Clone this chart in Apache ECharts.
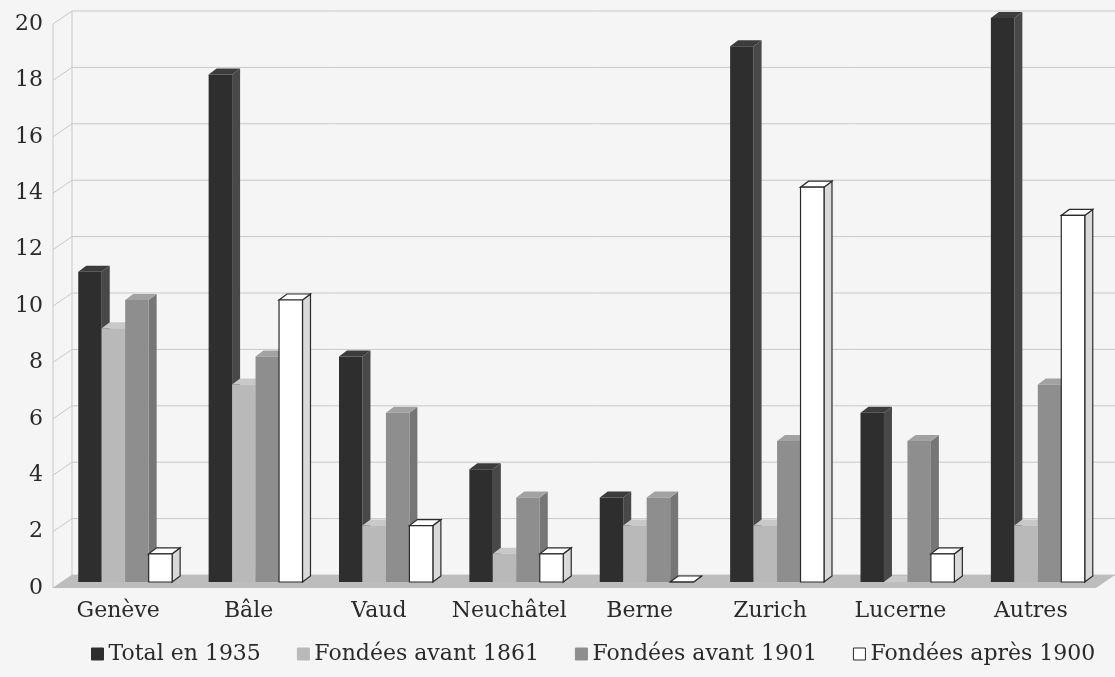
<!DOCTYPE html>
<html>
<head>
<meta charset="utf-8">
<script src="https://cdn.jsdelivr.net/npm/echarts@6/dist/echarts.min.js"></script>
<style>
  html, body { margin: 0; padding: 0; background: #f5f5f5; }
  #main { width: 1115px; height: 677px; }
</style>
</head>
<body>
<div id="main"></div>
<script>
var categories = ["Genève", "Bâle", "Vaud", "Neuchâtel", "Berne", "Zurich", "Lucerne", "Autres"];
var seriesNames = ["Total en 1935", "Fondées avant 1861", "Fondées avant 1901", "Fondées après 1900"];
var total1935 = [11, 18, 8, 4, 3, 19, 6, 20];
var avant1861 = [9, 7, 2, 1, 2, 2, 0, 2];
var avant1901 = [10, 8, 6, 3, 3, 5, 5, 7];
var apres1900 = [1, 10, 2, 1, 0, 14, 1, 13];
var yTicks = [0, 2, 4, 6, 8, 10, 12, 14, 16, 18, 20];

var chartDom = document.getElementById("main");
var myChart = echarts.init(chartDom);
var option;

var font = "DejaVu Serif";
// front plane -> back wall
var wallDx = 19, wallDy = -13;
// bars stand a bit behind the front plane
var barDx = 7, barDy = -6;
var sideDx = 8, sideDy = -6;

var faces = [
  { front: "#2e2e2e", side: "#484848", top: "#3c3c3c", stroke: null },
  { front: "#b9b9b9", side: "#a3a3a3", top: "#c9c9c9", stroke: null },
  { front: "#8e8e8e", side: "#767676", top: "#a2a2a2", stroke: null },
  { front: "#ffffff", side: "#d9d9d9", top: "#ffffff", stroke: "#2a2a2a" }
];
var allValues = [total1935, avant1861, avant1901, apres1900];

function barRender(k) {
  return function (params, api) {
    var idx = api.value(0);
    var val = api.value(1);
    var base = api.coord([idx, 0]);
    var top = api.coord([idx, val]);
    var bw = api.size([1, 0])[0] * 0.18;
    var x0 = base[0] + barDx + (k - 2) * bw;
    var x1 = x0 + bw;
    var y0 = base[1] + barDy;
    var y1 = top[1] + barDy;
    var f = faces[k];
    var lw = f.stroke ? 1.2 : 0;
    return {
      type: "group",
      children: [
        {
          type: "polygon",
          shape: { points: [[x1, y0], [x1 + sideDx, y0 + sideDy], [x1 + sideDx, y1 + sideDy], [x1, y1]] },
          style: { fill: f.side, stroke: f.stroke, lineWidth: lw }
        },
        {
          type: "polygon",
          shape: { points: [[x0, y1], [x1, y1], [x1 + sideDx, y1 + sideDy], [x0 + sideDx, y1 + sideDy]] },
          style: { fill: f.top, stroke: f.stroke, lineWidth: lw }
        },
        {
          type: "rect",
          shape: { x: x0, y: y1, width: bw, height: y0 - y1 },
          style: { fill: f.front, stroke: f.stroke, lineWidth: lw }
        }
      ]
    };
  };
}

function frameRender(params, api) {
  var cs = params.coordSys;
  var v = api.value(1);
  var y = api.coord([0, v])[1];
  var left = cs.x, right = cs.x + cs.width;
  var line = { stroke: "#c9c9c9", lineWidth: 1 };
  var children = [
    { type: "line", shape: { x1: left, y1: y, x2: left + wallDx, y2: y + wallDy }, style: line },
    { type: "line", shape: { x1: left + wallDx, y1: y + wallDy, x2: right + wallDx, y2: y + wallDy }, style: line }
  ];
  if (params.dataIndex === 0) {
    var yTop = api.coord([0, yTicks[yTicks.length - 1]])[1];
    children.push(
      { type: "line", shape: { x1: left, y1: y, x2: left, y2: yTop }, style: line },
      { type: "line", shape: { x1: left + wallDx, y1: y + wallDy, x2: left + wallDx, y2: yTop + wallDy }, style: line },
      {
        type: "polygon",
        shape: { points: [[left, y], [right, y], [right + wallDx, y + wallDy], [left + wallDx, y + wallDy]] },
        style: { fill: "#bdbdbd" }
      }
    );
  }
  return { type: "group", children: children };
}

var series = [
  {
    name: "cadre",
    type: "custom",
    silent: true,
    renderItem: frameRender,
    encode: { x: 0, y: 1 },
    data: yTicks.map(function (v) { return [0, v]; })
  }
];
seriesNames.forEach(function (name, k) {
  series.push({
    name: name,
    type: "custom",
    renderItem: barRender(k),
    encode: { x: 0, y: 1 },
    itemStyle: { color: faces[k].front },
    data: allValues[k].map(function (v, i) { return [i, v]; })
  });
});

option = {
  backgroundColor: "#f5f5f5",
  animation: false,
  grid: { left: 53, right: 19, top: 24, bottom: 89 },
  legend: {
    left: 86,
    top: 638,
    icon: "rect",
    itemWidth: 12,
    itemHeight: 12,
    itemGap: 36,
    textStyle: { fontFamily: font, fontSize: 22, color: "#2a2a2a" },
    data: seriesNames.map(function (name, k) {
      return {
        name: name,
        itemStyle: {
          color: faces[k].front,
          borderColor: k === 3 ? "#2a2a2a" : faces[k].front,
          borderWidth: 1
        }
      };
    })
  },
  xAxis: {
    type: "category",
    data: categories,
    axisLine: { show: false },
    axisTick: { show: false },
    axisLabel: { interval: 0, fontFamily: font, fontSize: 22, color: "#2a2a2a", margin: 12 }
  },
  yAxis: {
    type: "value",
    min: 0,
    max: 20,
    interval: 2,
    axisLine: { show: false },
    axisTick: { show: false },
    splitLine: { show: false },
    axisLabel: { fontFamily: font, fontSize: 22, color: "#2a2a2a", margin: 10 }
  },
  series: series
};

option && myChart.setOption(option);
</script>
</body>
</html>
